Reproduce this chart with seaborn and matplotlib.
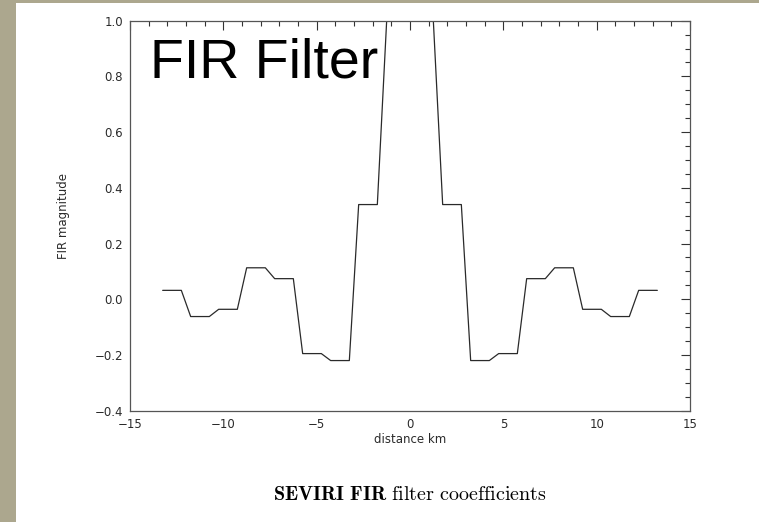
import numpy as np
import pandas as pd
import matplotlib
matplotlib.use("Agg")
import matplotlib.pyplot as plt
import seaborn as sns
from matplotlib.ticker import MultipleLocator
from matplotlib.patches import Rectangle

# ---- data (sample positions in km, FIR magnitude) ----
distance_km = [-13.25, -12.75, -12.25, -11.75, -11.25, -10.75, -10.25, -9.75, -9.25,
               -8.75, -8.25, -7.75, -7.25, -6.75, -6.25, -5.75, -5.25, -4.75,
               -4.25, -3.75, -3.25, -2.75, -2.25, -1.75, -1.25, -0.75, -0.25,
               0.25, 0.75, 1.25, 1.75, 2.25, 2.75, 3.25, 3.75, 4.25,
               4.75, 5.25, 5.75, 6.25, 6.75, 7.25, 7.75, 8.25, 8.75,
               9.25, 9.75, 10.25, 10.75, 11.25, 11.75, 12.25, 12.75, 13.25]
fir_magnitude = [0.032, 0.032, 0.032, -0.062, -0.062, -0.062, -0.036, -0.036, -0.036,
                 0.113, 0.113, 0.113, 0.074, 0.074, 0.074, -0.195, -0.195, -0.195,
                 -0.220, -0.220, -0.220, 0.340, 0.340, 0.340, 1.0, 1.0, 1.0,
                 1.0, 1.0, 1.0, 0.340, 0.340, 0.340, -0.220, -0.220, -0.220,
                 -0.195, -0.195, -0.195, 0.074, 0.074, 0.074, 0.113, 0.113, 0.113,
                 -0.036, -0.036, -0.036, -0.062, -0.062, -0.062, 0.032, 0.032, 0.032]
x_ticks = [-15, -10, -5, 0, 5, 10, 15]
y_ticks = [-0.4, -0.2, 0.0, 0.2, 0.4, 0.6, 0.8, 1.0]

df = pd.DataFrame({"distance": distance_km, "magnitude": fir_magnitude})

sns.set_theme(style="white")
plt.rcParams["font.family"] = ["DejaVu Sans"]
plt.rcParams["mathtext.fontset"] = "cm"
plt.rcParams["axes.unicode_minus"] = True

W, H = 759, 522
fig = plt.figure(figsize=(W / 100, H / 100), dpi=100)
fig.patch.set_facecolor("white")

# tan frame strips (left and top)
tan = "#aca78e"
fig.add_artist(Rectangle((0, 0), 16 / W, 1, transform=fig.transFigure,
                         facecolor=tan, edgecolor="none", zorder=0))
fig.add_artist(Rectangle((0, 1 - 3 / H), 1, 3 / H, transform=fig.transFigure,
                         facecolor=tan, edgecolor="none", zorder=0))

left, right = 130 / W, 690 / W
top, bottom = 1 - 20.7 / H, 1 - 410.7 / H
ax = fig.add_axes([left, bottom, right - left, top - bottom])

sns.lineplot(data=df, x="distance", y="magnitude", ax=ax, color="#2a2a2a",
             linewidth=0.9, estimator=None, sort=False)

ax.set_xlim(-15, 15)
ax.set_ylim(-0.4, 1.0)
ax.set_xticks(x_ticks)
ax.set_yticks(y_ticks)
ax.set_xticklabels([str(v).replace("-", "\u2212") for v in x_ticks])
ax.set_yticklabels([f"{v:.1f}".replace("-", "\u2212") for v in y_ticks])
ax.xaxis.set_minor_locator(MultipleLocator(1))
ax.yaxis.set_minor_locator(MultipleLocator(0.05))
ax.tick_params(which="both", direction="in", top=True, right=True,
               colors="#333333", labelcolor="#2a2a2a", labelsize=8.5, width=0.8)
ax.tick_params(which="major", length=6.5, pad=5)
ax.tick_params(which="minor", length=3.6)
for s in ax.spines.values():
    s.set_color("#555555")
    s.set_linewidth(0.9)
ax.grid(False)

ax.set_xlabel("distance km", fontsize=8.5, color="#2a2a2a", labelpad=2)
ax.set_ylabel("FIR magnitude", fontsize=8.5, color="#2a2a2a", labelpad=18)

fig.text(150 / W, 1 - 78 / H, "FIR Filter", family=["Liberation Sans"],
         fontsize=40, color="black", ha="left", va="baseline")

fig.text(410 / W, 1 - 494 / H,
         r"$\mathbf{SEVIRI\ FIR}\ \mathrm{filter\ cooefficients}$",
         fontsize=14.5, color="black", ha="center", va="center")

fig.savefig("out.png", dpi=100)
